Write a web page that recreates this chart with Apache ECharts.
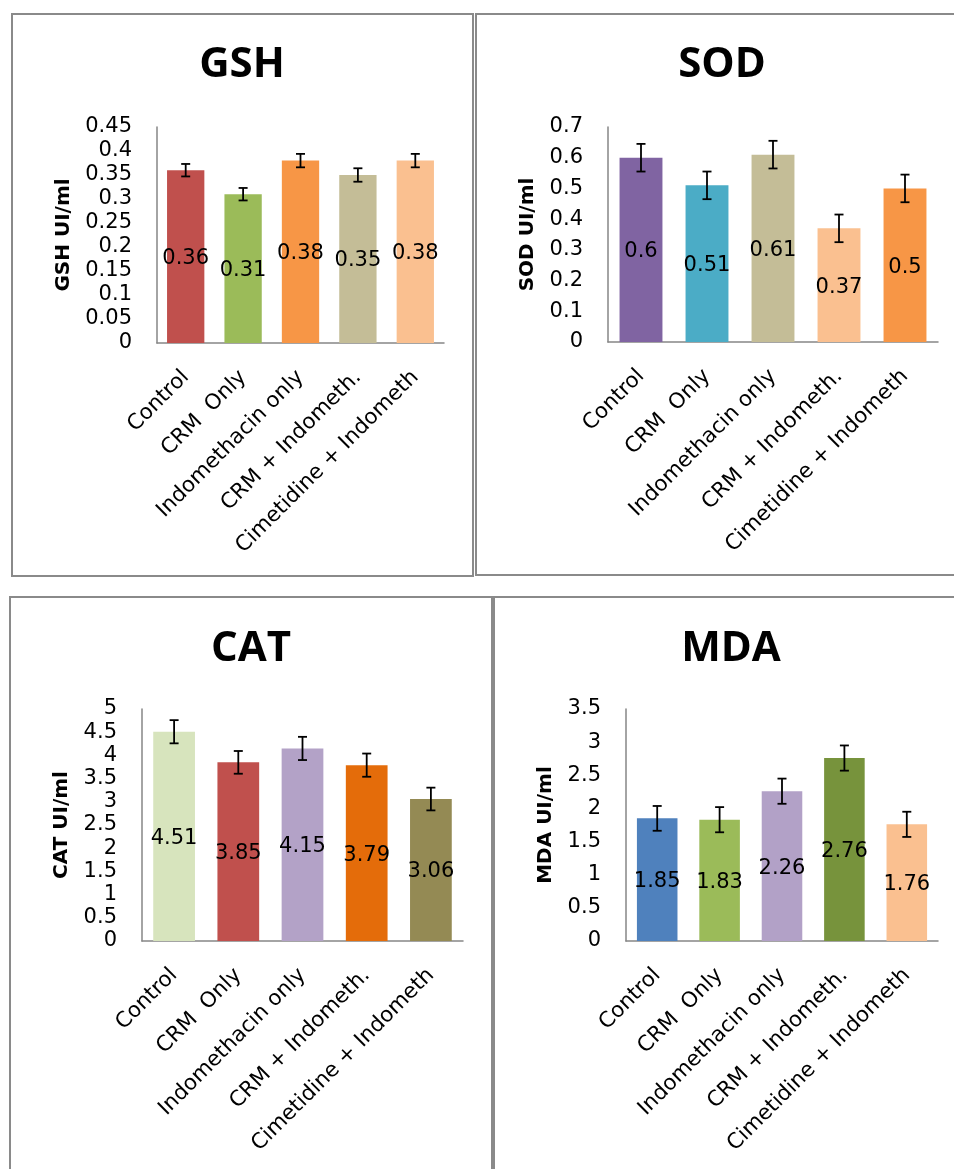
<!DOCTYPE html>
<html><head><meta charset="utf-8">
<script src="https://cdn.jsdelivr.net/npm/echarts@6/dist/echarts.min.js"></script>
<style>html,body{margin:0;padding:0;background:#fff}#c{width:954px;height:1169px}</style>
</head><body><div id="c"></div>
<script>
// ---- data ----
const categories = ['Control', 'CRM  Only', 'Indomethacin only', 'CRM + Indometh.', 'Cimetidine + Indometh'];
const gshValues = [0.36, 0.31, 0.38, 0.35, 0.38];
const gshErrors = [0.013, 0.013, 0.014, 0.014, 0.014];
const sodValues = [0.6, 0.51, 0.61, 0.37, 0.5];
const sodErrors = [0.045, 0.045, 0.045, 0.045, 0.045];
const catValues = [4.51, 3.85, 4.15, 3.79, 3.06];
const catErrors = [0.25, 0.245, 0.25, 0.25, 0.245];
const mdaValues = [1.85, 1.83, 2.26, 2.76, 1.76];
const mdaErrors = [0.187, 0.19, 0.19, 0.19, 0.19];
const titles = ['GSH', 'SOD', 'CAT', 'MDA'];
const axisNames = ['GSH UI/ml', 'SOD UI/ml', 'CAT UI/ml', 'MDA UI/ml'];
const yMax = [0.45, 0.7, 5, 3.5];
const yInterval = [0.05, 0.1, 0.5, 0.5];

// ---- styles ----
const barColors = [
  ['#C0504D', '#9BBB59', '#F79646', '#C4BD97', '#FAC090'],
  ['#8064A2', '#4BACC6', '#C4BD97', '#FAC090', '#F79646'],
  ['#D7E4BD', '#C0504D', '#B3A2C7', '#E46C0A', '#948A54'],
  ['#4F81BD', '#9BBB59', '#B2A1C7', '#77933C', '#FAC090']
];
const grids = [
  {left: 157, top: 127, width: 287, height: 216},
  {left: 608, top: 127, width: 330, height: 215},
  {left: 142, top: 709, width: 321, height: 232},
  {left: 626, top: 709, width: 312, height: 232}
];
const nameGaps = [83, 70, 70, 70];
const titlePos = [[242, 65], [722, 65], [251, 649], [731, 649]];
const values = [gshValues, sodValues, catValues, mdaValues];
const errors = [gshErrors, sodErrors, catErrors, mdaErrors];

const FONT = 'DejaVu Sans';
const option = {
  animation: false,
  backgroundColor: '#fff',
  grid: grids.map(g => Object.assign({containLabel: false}, g)),
  xAxis: grids.map((g, i) => ({
    type: 'category', gridIndex: i, data: categories,
    axisLine: {show: true, lineStyle: {color: '#868686', width: 1.5}},
    axisTick: {show: false},
    axisLabel: {rotate: 45, interval: 0, color: '#000', fontFamily: FONT, fontSize: 21.3, margin: 31}
  })),
  yAxis: grids.map((g, i) => ({
    type: 'value', gridIndex: i, min: 0, max: yMax[i], interval: yInterval[i],
    name: axisNames[i], nameLocation: 'middle', nameGap: nameGaps[i],
    nameTextStyle: {color: '#000', fontFamily: FONT, fontWeight: 'bold', fontSize: 20},
    axisLine: {show: true, lineStyle: {color: '#868686', width: 1.5}},
    axisTick: {show: false},
    splitLine: {show: false},
    axisLabel: {color: '#000', fontFamily: FONT, fontSize: 21, margin: 25}
  })),
  series: [],
  graphic: []
};

values.forEach((vals, i) => {
  option.series.push({
    type: 'bar', xAxisIndex: i, yAxisIndex: i, barWidth: '65%',
    data: vals.map((v, j) => ({value: v, itemStyle: {color: barColors[i][j]}})),
    label: {show: true, position: 'inside', offset: [0, 2], color: '#000', fontFamily: FONT, fontSize: 21}
  });
  option.series.push({
    type: 'custom', xAxisIndex: i, yAxisIndex: i, z: 10,
    data: vals.map((v, j) => [j, v, errors[i][j]]),
    renderItem: function (params, api) {
      const x = api.value(0), v = api.value(1), e = api.value(2);
      const hi = api.coord([x, v + e]);
      const lo = api.coord([x, v - e]);
      const w = 4.5;
      const st = {stroke: '#000', lineWidth: 1.8};
      return {type: 'group', children: [
        {type: 'line', shape: {x1: hi[0], y1: hi[1], x2: lo[0], y2: lo[1]}, style: st},
        {type: 'line', shape: {x1: hi[0] - w, y1: hi[1], x2: hi[0] + w, y2: hi[1]}, style: st},
        {type: 'line', shape: {x1: lo[0] - w, y1: lo[1], x2: lo[0] + w, y2: lo[1]}, style: st}
      ]};
    }
  });
  option.graphic.push({
    type: 'text', x: titlePos[i][0], y: titlePos[i][1],
    style: {text: titles[i], fill: '#000', font: 'bold 42px "Open Sans"', textAlign: 'center', textVerticalAlign: 'middle'}
  });
});

// panel borders
const borderStyle = {fill: null, stroke: '#8a8a8a', lineWidth: 2};
option.graphic.push(
  {type: 'rect', shape: {x: 12, y: 14, width: 461, height: 562}, style: borderStyle, silent: true},
  {type: 'rect', shape: {x: 476, y: 14, width: 520, height: 561}, style: borderStyle, silent: true},
  {type: 'rect', shape: {x: 10, y: 597, width: 482, height: 620}, style: borderStyle, silent: true},
  {type: 'rect', shape: {x: 494, y: 597, width: 520, height: 620}, style: borderStyle, silent: true}
);

const chart = echarts.init(document.getElementById('c'), null, {renderer: 'canvas'});
chart.setOption(option);
</script></body></html>
